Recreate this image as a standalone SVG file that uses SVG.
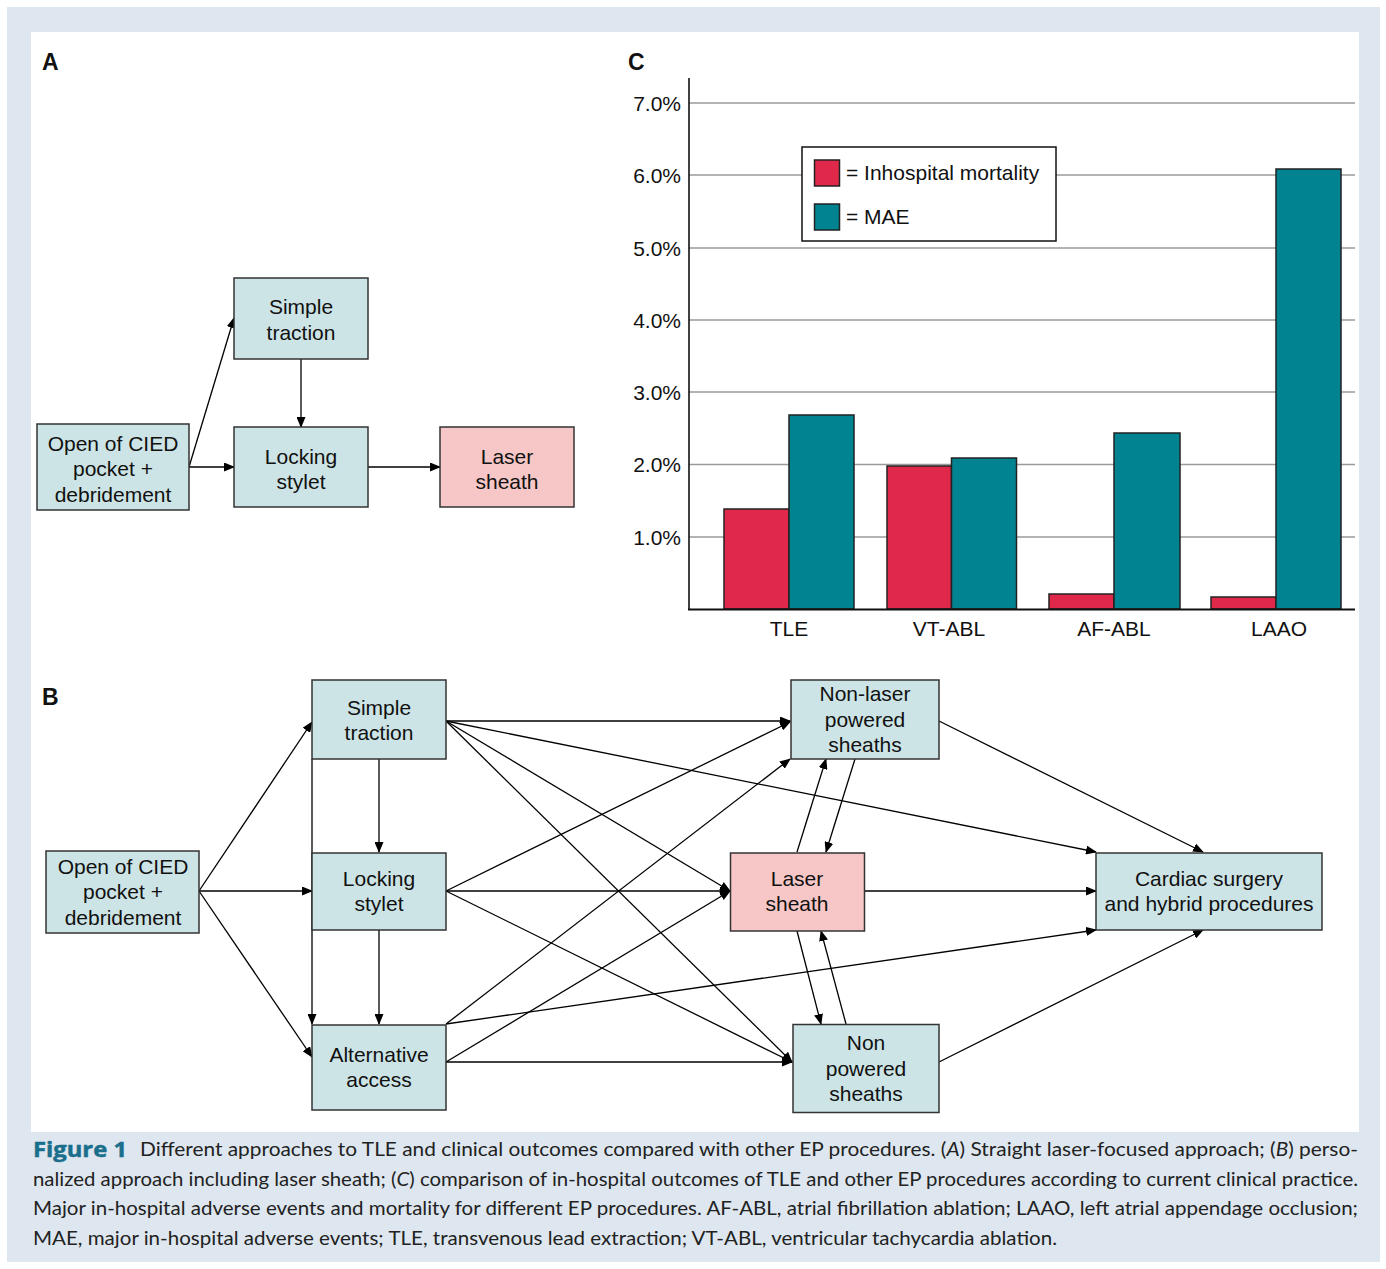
<svg xmlns="http://www.w3.org/2000/svg" width="1386" height="1269" viewBox="0 0 1386 1269">
<defs>
<marker id="arr" markerUnits="userSpaceOnUse" markerWidth="11" markerHeight="9" refX="10" refY="4.5" orient="auto">
<path d="M0,0 L11,4.5 L0,9 z" fill="#000"/>
</marker>
<style>
.node{fill:#cde4e6;stroke:#333;stroke-width:1.5}
.laser{fill:#f6c7c6;stroke:#333;stroke-width:1.5}
.nt{font-family:"Liberation Sans",Arial,sans-serif;font-size:21px;fill:#111;text-anchor:middle}
.lbl{font-family:"Liberation Sans",Arial,sans-serif;font-size:23px;font-weight:bold;fill:#111}
.ax{font-family:"Liberation Sans",Arial,sans-serif;font-size:21px;fill:#111}
.ylab{text-anchor:end}
.xlab{text-anchor:middle}
.conn line{stroke:#000;stroke-width:1.3;marker-end:url(#arr)}
.grid{stroke:#9a9a9a;stroke-width:1.5}
.red{fill:#e0294a;stroke:#222;stroke-width:1.5}
.teal{fill:#028391;stroke:#222;stroke-width:1.5}
.cap{font-family:Lato,"Open Sans",sans-serif;font-size:20px;fill:#222}
.fig{font-family:"Open Sans",Lato,sans-serif;font-weight:700;font-size:22px;fill:#1a6f8c;stroke:#1a6f8c;stroke-width:0.5}
</style>
</defs>
<rect x="0" y="0" width="1386" height="1269" fill="#ffffff"/>
<rect x="7" y="7" width="1373" height="1255" fill="#dee7f0"/>
<rect x="31" y="32" width="1328" height="1100" fill="#ffffff"/>

<!-- Panel labels -->
<text class="lbl" x="42" y="70">A</text>
<text class="lbl" x="628" y="70">C</text>
<text class="lbl" x="42" y="705">B</text>

<!-- Panel A connectors -->
<g id="connectors-a" class="conn">
<line x1="189" y1="467" x2="234" y2="467"/>
<line x1="189" y1="467" x2="234" y2="318"/>
<line x1="301" y1="359" x2="301" y2="427"/>
<line x1="368" y1="467" x2="440" y2="467"/>
</g>

<g id="a-open">
<rect class="node" x="37" y="424" width="152" height="86"/>
<text class="nt" x="113" y="450.5">Open of CIED</text>
<text class="nt" x="113" y="475.5">pocket +</text>
<text class="nt" x="113" y="501.5">debridement</text>
</g>
<g id="a-simple">
<rect class="node" x="234" y="278" width="134" height="81"/>
<text class="nt" x="301" y="313.5">Simple</text>
<text class="nt" x="301" y="339.5">traction</text>
</g>
<g id="a-locking">
<rect class="node" x="234" y="427" width="134" height="80"/>
<text class="nt" x="301" y="463.5">Locking</text>
<text class="nt" x="301" y="488.5">stylet</text>
</g>
<g id="a-laser">
<rect class="laser" x="440" y="427" width="134" height="80"/>
<text class="nt" x="507" y="463.5">Laser</text>
<text class="nt" x="507" y="488.5">sheath</text>
</g>

<!-- Panel C chart -->
<g id="chart">
<line class="grid" x1="689" y1="103" x2="1355" y2="103"/>
<line class="grid" x1="689" y1="175" x2="1355" y2="175"/>
<line class="grid" x1="689" y1="248" x2="1355" y2="248"/>
<line class="grid" x1="689" y1="320" x2="1355" y2="320"/>
<line class="grid" x1="689" y1="392" x2="1355" y2="392"/>
<line class="grid" x1="689" y1="464.5" x2="1355" y2="464.5"/>
<line class="grid" x1="689" y1="537" x2="1355" y2="537"/>
<text class="ax ylab" x="681" y="110.5">7.0%</text>
<text class="ax ylab" x="681" y="182.5">6.0%</text>
<text class="ax ylab" x="681" y="255.5">5.0%</text>
<text class="ax ylab" x="681" y="327.5">4.0%</text>
<text class="ax ylab" x="681" y="399.5">3.0%</text>
<text class="ax ylab" x="681" y="472">2.0%</text>
<text class="ax ylab" x="681" y="544.5">1.0%</text>
<rect class="red" x="724" y="509" width="65" height="100"/>
<rect class="teal" x="789" y="415" width="65" height="194"/>
<rect class="red" x="887" y="466" width="64.5" height="143"/>
<rect class="teal" x="951.5" y="458" width="65" height="151"/>
<rect class="red" x="1049" y="594" width="65" height="15"/>
<rect class="teal" x="1114" y="433" width="66" height="176"/>
<rect class="red" x="1211" y="597" width="65" height="12"/>
<rect class="teal" x="1276" y="169" width="65" height="440"/>
<line x1="689" y1="78" x2="689" y2="610" stroke="#111" stroke-width="1.6"/>
<line x1="688" y1="609.5" x2="1355" y2="609.5" stroke="#111" stroke-width="2"/>
<text class="ax xlab" x="789" y="635.5">TLE</text>
<text class="ax xlab" x="949" y="635.5">VT-ABL</text>
<text class="ax xlab" x="1114" y="635.5">AF-ABL</text>
<text class="ax xlab" x="1279" y="635.5">LAAO</text>
<g id="legend">
<rect x="802" y="147" width="254" height="94" fill="#fff" stroke="#111" stroke-width="1.5"/>
<rect class="red" x="814.5" y="160" width="25" height="26"/>
<rect class="teal" x="814.5" y="204" width="25" height="26"/>
<text class="ax" x="846" y="179.5">= Inhospital mortality</text>
<text class="ax" x="846" y="223.5">= MAE</text>
</g>
</g>

<!-- Panel B connectors -->
<g id="connectors-b" class="conn">
<line x1="199" y1="891" x2="312" y2="722"/>
<line x1="199" y1="891" x2="312" y2="891"/>
<line x1="199" y1="891" x2="312" y2="1057"/>
<line x1="379" y1="759" x2="379" y2="852"/>
<line x1="379" y1="930" x2="379" y2="1024"/>
<line x1="312" y1="759" x2="312" y2="1024"/>
<line x1="446" y1="721" x2="790" y2="721"/>
<line x1="446" y1="721" x2="1096" y2="852"/>
<line x1="446" y1="721" x2="730" y2="891"/>
<line x1="446" y1="721" x2="792" y2="1062"/>
<line x1="446" y1="891" x2="790" y2="722"/>
<line x1="446" y1="891" x2="730" y2="891"/>
<line x1="446" y1="891" x2="792" y2="1062"/>
<line x1="446" y1="1024" x2="790" y2="759"/>
<line x1="446" y1="1024" x2="1096" y2="930"/>
<line x1="446" y1="1062" x2="730" y2="891"/>
<line x1="446" y1="1062" x2="792" y2="1062"/>
<line x1="797" y1="852" x2="826" y2="759"/>
<line x1="855" y1="759" x2="826" y2="852"/>
<line x1="797" y1="931" x2="821" y2="1024"/>
<line x1="846" y1="1024" x2="821" y2="931"/>
<line x1="939" y1="721" x2="1203" y2="852"/>
<line x1="864" y1="891" x2="1096" y2="891"/>
<line x1="939" y1="1062" x2="1203" y2="930"/>
</g>

<g id="b-open">
<rect class="node" x="46" y="851" width="153" height="82"/>
<text class="nt" x="123" y="873.5">Open of CIED</text>
<text class="nt" x="123" y="898.5">pocket +</text>
<text class="nt" x="123" y="924.5">debridement</text>
</g>
<g id="b-simple">
<rect class="node" x="312" y="680" width="134" height="79"/>
<text class="nt" x="379" y="714.5">Simple</text>
<text class="nt" x="379" y="739.5">traction</text>
</g>
<g id="b-locking">
<rect class="node" x="312" y="853" width="134" height="77"/>
<text class="nt" x="379" y="885.5">Locking</text>
<text class="nt" x="379" y="910.5">stylet</text>
</g>
<g id="b-alt">
<rect class="node" x="312" y="1025" width="134" height="85"/>
<text class="nt" x="379" y="1061.5">Alternative</text>
<text class="nt" x="379" y="1086.5">access</text>
</g>
<g id="b-nonlaser">
<rect class="node" x="791" y="680" width="148" height="79"/>
<text class="nt" x="865" y="700.5">Non-laser</text>
<text class="nt" x="865" y="726.5">powered</text>
<text class="nt" x="865" y="751.5">sheaths</text>
</g>
<g id="b-laser">
<rect class="laser" x="730.5" y="853" width="134" height="78"/>
<text class="nt" x="797" y="886">Laser</text>
<text class="nt" x="797" y="910.5">sheath</text>
</g>
<g id="b-nonpowered">
<rect class="node" x="793" y="1024.5" width="146" height="88"/>
<text class="nt" x="866" y="1049.5">Non</text>
<text class="nt" x="866" y="1075.5">powered</text>
<text class="nt" x="866" y="1100.5">sheaths</text>
</g>
<g id="b-cardiac">
<rect class="node" x="1096" y="853" width="226" height="77"/>
<text class="nt" x="1209" y="885.5">Cardiac surgery</text>
<text class="nt" x="1209" y="910.5">and hybrid procedures</text>
</g>

<!-- Caption -->
<g id="caption">
<text class="cap fig" x="33" y="1156.5" textLength="94" lengthAdjust="spacingAndGlyphs">Figure 1</text>
<text class="cap" x="140" y="1156" textLength="1218" lengthAdjust="spacingAndGlyphs">Different approaches to TLE and clinical outcomes compared with other EP procedures. (<tspan font-style="italic">A</tspan>) Straight laser-focused approach; (<tspan font-style="italic">B</tspan>) perso-</text>
<text class="cap" x="33" y="1185.5" textLength="1325" lengthAdjust="spacingAndGlyphs">nalized approach including laser sheath; (<tspan font-style="italic">C</tspan>) comparison of in-hospital outcomes of TLE and other EP procedures according to current clinical practice.</text>
<text class="cap" x="33" y="1215" textLength="1325" lengthAdjust="spacingAndGlyphs">Major in-hospital adverse events and mortality for different EP procedures. AF-ABL, atrial fibrillation ablation; LAAO, left atrial appendage occlusion;</text>
<text class="cap" x="33" y="1244.5" textLength="1024" lengthAdjust="spacingAndGlyphs">MAE, major in-hospital adverse events; TLE, transvenous lead extraction; VT-ABL, ventricular tachycardia ablation.</text>
</g>
</svg>
